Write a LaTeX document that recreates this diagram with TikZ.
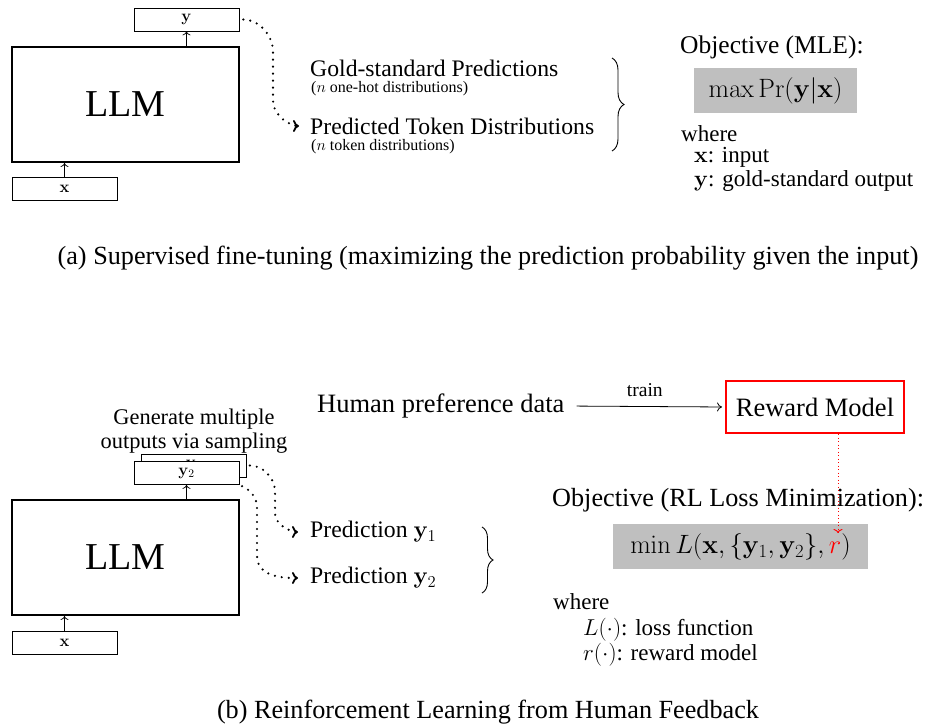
\RequirePackage{fix-cm}
\documentclass[tikz,border=0pt]{standalone}
\usepackage[no-math]{fontspec}
\setmainfont{Liberation Serif}
\usetikzlibrary{arrows.meta,decorations.pathreplacing}
\begin{document}
\begin{tikzpicture}[x=1pt,y=-1pt,
  box/.style={draw, line width=0.8pt, minimum width=105pt, minimum height=23pt, inner sep=0pt, font=\fontsize{16.5}{19}\selectfont, fill=white},
  llm/.style={draw, line width=2pt, minimum width=227pt, minimum height=115pt, inner sep=0pt, font=\fontsize{38}{45}\selectfont},
  up/.style={-{To[length=4pt,width=8pt]}, line width=0.7pt},
  dotarrow/.style={line width=2.4pt, dash pattern=on 0pt off 7pt, line cap=round, -{To[length=6pt,width=12pt,line width=1.8pt]}},
  big/.style={inner sep=0pt, font=\fontsize{26.5}{31}\selectfont},
  mid/.style={inner sep=0pt, font=\fontsize{23.7}{28}\selectfont},
  mid2/.style={inner sep=0pt, font=\fontsize{23}{27}\selectfont},
  small/.style={inner sep=0pt, font=\fontsize{16}{19}\selectfont},
  captext/.style={inner sep=0pt, font=\fontsize{26.2}{31}\selectfont},
  graybox/.style={fill=gray!50, inner sep=0pt, minimum height=45pt, font=\fontsize{26.5}{31}\selectfont},
  bracestyle/.style={decorate, decoration={brace, amplitude=12pt}, line width=0.9pt},
]
\useasboundingbox (0,0) rectangle (927,726);

% ---------- (a) ----------
\node[llm] (llmA) at (125.5,104.5) {LLM};
\node[box] (yA) at (186.5,19.5) {$\mathbf{y}$};
\node[box] (xA) at (64.5,189) {$\mathbf{x}$};
\draw[up] (yA.south |- llmA.north) -- (yA.south);
\draw[up] (xA.north) -- (xA.north |- llmA.south);

\node[mid, anchor=west] (goldA) at (310,68) {Gold-standard Predictions};
\node[small, anchor=west] (goldsub) at (311,88.5) {($n$ one-hot distributions)};
\node[mid, anchor=west] (predA) at (310,126) {Predicted Token Distributions};
\node[small, anchor=west] (predsub) at (311,146.5) {($n$ token distributions)};

\draw[dotarrow, shorten <=4pt, shorten >=11pt] (yA.east) to[out=0,in=90] (273,52) -- (273,100) to[out=-90,in=180] (predA.west);

\draw[bracestyle] (612,58) -- (612,151);

\node[inner sep=0pt, anchor=west, font=\fontsize{25.5}{30}\selectfont] (objA) at (680,47) {Objective (MLE):};
\node[graybox, minimum width=163pt] (maxA) at (775.5,90.5) {$\max\Pr(\mathbf{y}|\mathbf{x})$};
\node[mid2, anchor=west] (whereA) at (681,134) {where};
\node[mid2, anchor=west] (xdefA) at (694,157.5) {$\mathbf{x}$: input};
\node[mid2, anchor=west] (ydefA) at (694,181) {$\mathbf{y}$: gold-standard output};

\node[captext] (capA) at (488,258) {(a) Supervised fine-tuning (maximizing the prediction probability given the input)};

% ---------- (b) ----------
\node[inner sep=0pt, align=center, font=\fontsize{22.4}{24}\selectfont] (gen) at (194,431) {Generate multiple\\outputs via sampling};
\node[box] (y1B) at (194,465.5) {$\mathbf{y}_1$};
\node[box] (y2B) at (186.5,473) {$\mathbf{y}_2$};
\node[llm] (llmB) at (125.5,557.5) {LLM};
\node[box] (xB) at (64.5,643) {$\mathbf{x}$};
\draw[up] (y2B.south |- llmB.north) -- (y2B.south);
\draw[up] (xB.north) -- (xB.north |- llmB.south);

\node[mid, anchor=west] (p1) at (310,532) {Prediction $\mathbf{y}_1$};
\node[mid, anchor=west] (p2) at (310,578) {Prediction $\mathbf{y}_2$};

\draw[dotarrow, shorten <=3pt, shorten >=12pt] (y1B.east) to[out=0,in=90] (275,492) -- (275,512) to[out=-90,in=180] (p1.west);
\draw[dotarrow, shorten <=3pt, shorten >=12pt] (y2B.south east) to[out=-25,in=90] (257,508) -- (257,556) to[out=-90,in=180] (p2.west);

\draw[bracestyle, decoration={brace, amplitude=11pt}] (482,527) -- (482,593);

\node[big, anchor=west] (hpd) at (317,406) {Human preference data};
\node[draw=red, line width=2pt, big, minimum width=178pt, minimum height=52pt] (rm) at (815,407) {Reward Model};
\draw[-{To[length=5pt,width=9pt]}, line width=0.8pt, shorten <=12pt, shorten >=3pt] (hpd.east) -- (rm.west)
  node[midway, above=9pt, inner sep=0pt, font=\fontsize{19.6}{23}\selectfont] (train) {train};

\node[inner sep=0pt, anchor=west, font=\fontsize{26.2}{31}\selectfont] (objB) at (552,500) {Objective (RL Loss Minimization):};
\node[graybox, minimum width=255pt] (minB) at (740.5,546.5) {$\min L(\mathbf{x},\{\mathbf{y}_1,\mathbf{y}_2\},\textcolor{red}{r})$};
\coordinate (rtip) at (838,533);
\draw[red, line width=0.7pt, dash pattern=on 1pt off 2.5pt, -{To[length=4pt,width=9pt,line width=0.9pt]}] (rm.south -| rtip) -- (rtip);

\node[mid2, anchor=west] (whereB) at (553,602) {where};
\node[mid2, anchor=west] (LdefB) at (583,630) {$L(\cdot)$: loss function};
\node[mid2, anchor=west] (rdefB) at (583,655) {$r(\cdot)$: reward model};

\node[captext] (capB) at (488,712) {(b) Reinforcement Learning from Human Feedback};
\end{tikzpicture}
\end{document}
